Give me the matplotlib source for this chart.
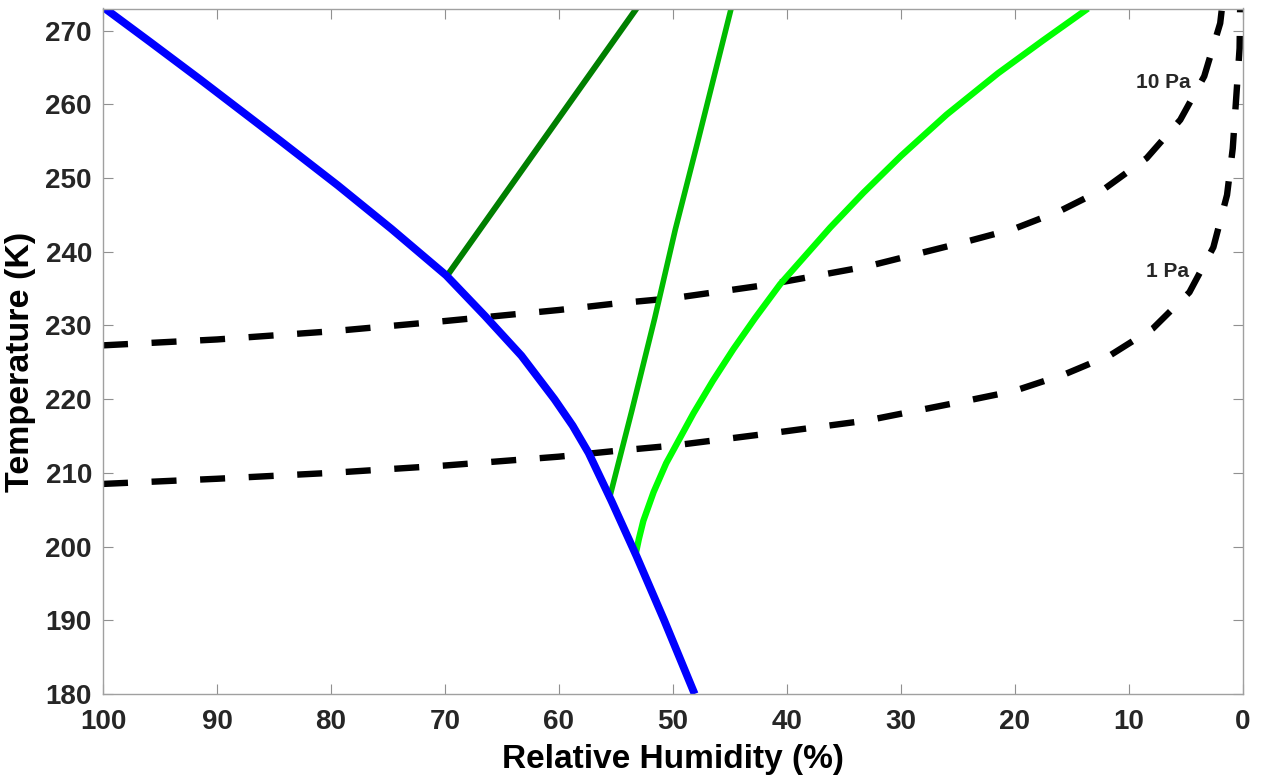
import matplotlib
matplotlib.use('Agg')
import matplotlib.pyplot as plt

plt.rcParams['font.family'] = ['Liberation Sans', 'DejaVu Sans']
plt.rcParams['lines.scale_dashes'] = False

# ice-saturation relative humidity (RH %, T K)
ice_rh = [100.0, 95.9, 91.5, 84.4, 79.4, 74.7, 69.9, 66.5, 63.3, 60.4, 58.8, 57.4, 55.4,
          53.2, 50.8, 48.1]
ice_t = [273.2, 268.5, 263.4, 255.0, 249.0, 243.1, 236.8, 231.3, 225.9, 220.0, 216.4, 212.7,
         206.2, 198.7, 190.1, 180.0]

# freezing thresholds, darkest to brightest green
dark_rh = [69.7, 53.2]
dark_t = [237.0, 273.0]
mid_rh = [55.6, 53.6, 51.6, 49.8, 47.9, 44.9]
mid_t = [206.4, 218.5, 231.0, 243.0, 254.5, 273.0]
bright_rh = [53.3, 53.0, 52.6, 51.7, 50.6, 48.2, 46.5, 44.7, 42.8, 40.6, 36.2, 33.3, 30.0,
             26.0, 21.5, 17.6, 13.6]
bright_t = [198.8, 201.0, 203.5, 207.4, 211.3, 218.1, 222.5, 226.8, 231.0, 235.6, 243.3,
            248.0, 253.0, 258.6, 264.2, 268.6, 273.0]

# constant vapour pressure isolines
p10_rh = [100, 90, 80, 70, 60, 54.9, 50, 41.8, 33.0, 24.2, 20.1, 16.1, 12.1, 8.45, 5.5, 3.4,
          2.0, 1.85]
p10_t = [227.3, 228.1, 229.2, 230.6, 232.1, 233.0, 233.7, 235.5, 238.0, 241.4, 243.1, 245.5,
         248.6, 252.7, 257.9, 263.8, 271.0, 273.0]
p1_rh = [100, 90, 80, 70, 60, 54.9, 50, 41.8, 33.0, 24.2, 20.1, 15.6, 11.6, 7.9, 4.7, 2.6,
         1.4, 0.9, 0.6, 0.3, 0.25]
p1_t = [208.5, 209.2, 210.0, 211.0, 212.2, 213.0, 213.7, 215.3, 217.1, 219.8, 221.1, 223.4,
        226.0, 229.6, 234.5, 240.6, 247.7, 254.0, 260.8, 267.6, 273.0]

x_ticks = list(range(0, 101, 10))
y_ticks = list(range(180, 271, 10))

fig = plt.figure(figsize=(12.67, 7.81), dpi=100)
ax = fig.add_axes([103 / 1267, 87 / 781, 1140 / 1267, 685.5 / 781])

ax.plot(p10_rh, p10_t, color='black', lw=4.6, dashes=(18, 17), solid_capstyle='butt')
ax.plot(p1_rh, p1_t, color='black', lw=4.6, dashes=(18, 17), solid_capstyle='butt')
ax.plot(dark_rh, dark_t, color='#007f00', lw=4.3, solid_capstyle='butt')
ax.plot(mid_rh, mid_t, color='#00bb00', lw=4.0, solid_capstyle='butt')
ax.plot(bright_rh, bright_t, color='#00ff00', lw=4.6, solid_capstyle='butt')
ax.plot(ice_rh, ice_t, color='#0000ff', lw=5.6, solid_capstyle='butt')

ax.text(7.0, 263.0, '10 Pa', fontsize=15, fontweight='bold', color='#262626',
        ha='center', va='center')
ax.text(6.6, 237.3, '1 Pa', fontsize=15, fontweight='bold', color='#262626',
        ha='center', va='center')

ax.set_xlim(100, 0)
ax.set_ylim(180, 273)
ax.set_xticks(x_ticks)
ax.set_yticks(y_ticks)
ax.tick_params(direction='in', length=7, width=0.8, color='#909090',
               top=True, right=True, labelsize=20, labelcolor='#262626')
ax.tick_params(axis='x', pad=11)
ax.tick_params(axis='y', pad=8)
for lab in ax.get_xticklabels() + ax.get_yticklabels():
    lab.set_fontweight('bold')
for sp in ax.spines.values():
    sp.set_color('#a0a0a0')
    sp.set_linewidth(1.0)

ax.set_xlabel('Relative Humidity (%)', fontsize=24, fontweight='bold', color='black')
ax.set_ylabel('Temperature (K)', fontsize=24.5, fontweight='bold', color='black')
ax.xaxis.set_label_coords(0.5, -0.073)
ax.yaxis.set_label_coords(-0.059, 0.484)

fig.savefig('out.png', dpi=100)
